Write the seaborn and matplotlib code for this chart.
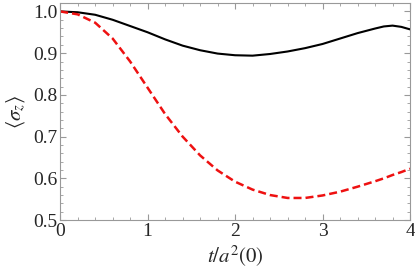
import numpy as np
import pandas as pd
import matplotlib
matplotlib.use("Agg")
import matplotlib.pyplot as plt
import seaborn as sns
from matplotlib.ticker import MultipleLocator

# values
t = [0.0, 0.2, 0.4, 0.6, 0.8, 1.0, 1.2, 1.4, 1.6, 1.8, 2.0,
     2.2, 2.4, 2.6, 2.8, 3.0, 3.2, 3.4, 3.6, 3.7, 3.8, 3.9, 4.0]
sz_solid = [1.000, 0.998, 0.992, 0.980, 0.965, 0.950, 0.933, 0.918, 0.907, 0.899, 0.895,
            0.894, 0.898, 0.904, 0.912, 0.922, 0.935, 0.948, 0.959, 0.964, 0.966, 0.963, 0.957]
sz_dashed = [1.000, 0.993, 0.973, 0.935, 0.880, 0.817, 0.754, 0.700, 0.655, 0.619, 0.592,
             0.573, 0.560, 0.553, 0.553, 0.559, 0.568, 0.580, 0.593, 0.600, 0.608, 0.615, 0.623]

df = pd.DataFrame({"t": t, "solid": sz_solid, "dashed": sz_dashed})

sns.set_style("ticks")
plt.rcParams["font.family"] = ["Liberation Serif", "DejaVu Serif"]
plt.rcParams["mathtext.fontset"] = "stix"

fig = plt.figure(figsize=(4.15, 2.8), dpi=100)
ax = fig.add_axes([0.145, 0.214, 0.843, 0.775])

sns.lineplot(data=df, x="t", y="solid", ax=ax, color="black", linewidth=1.5)
sns.lineplot(data=df, x="t", y="dashed", ax=ax, color="#ee1111", linewidth=1.8,
             linestyle=(0, (3.2, 1.6)))

ax.set_xlim(0, 4)
ax.set_ylim(0.5, 1.02)
ax.xaxis.set_major_locator(MultipleLocator(1))
ax.xaxis.set_minor_locator(MultipleLocator(0.2))
ax.yaxis.set_major_locator(MultipleLocator(0.1))
ax.yaxis.set_minor_locator(MultipleLocator(0.02))
ax.tick_params(which="both", direction="in", top=True, right=True,
               color="#999999", labelsize=14, pad=2)
ax.tick_params(which="major", length=4, width=0.8)
ax.tick_params(which="minor", length=2, width=0.6)
for s in ax.spines.values():
    s.set_color("#999999")
    s.set_linewidth(0.8)

ax.set_xlabel(r"$t/a^2(0)$", fontsize=15, labelpad=3)
ax.set_ylabel(r"$\langle\sigma_z\rangle$", fontsize=15, labelpad=4)

fig.savefig("out.png", dpi=100)
